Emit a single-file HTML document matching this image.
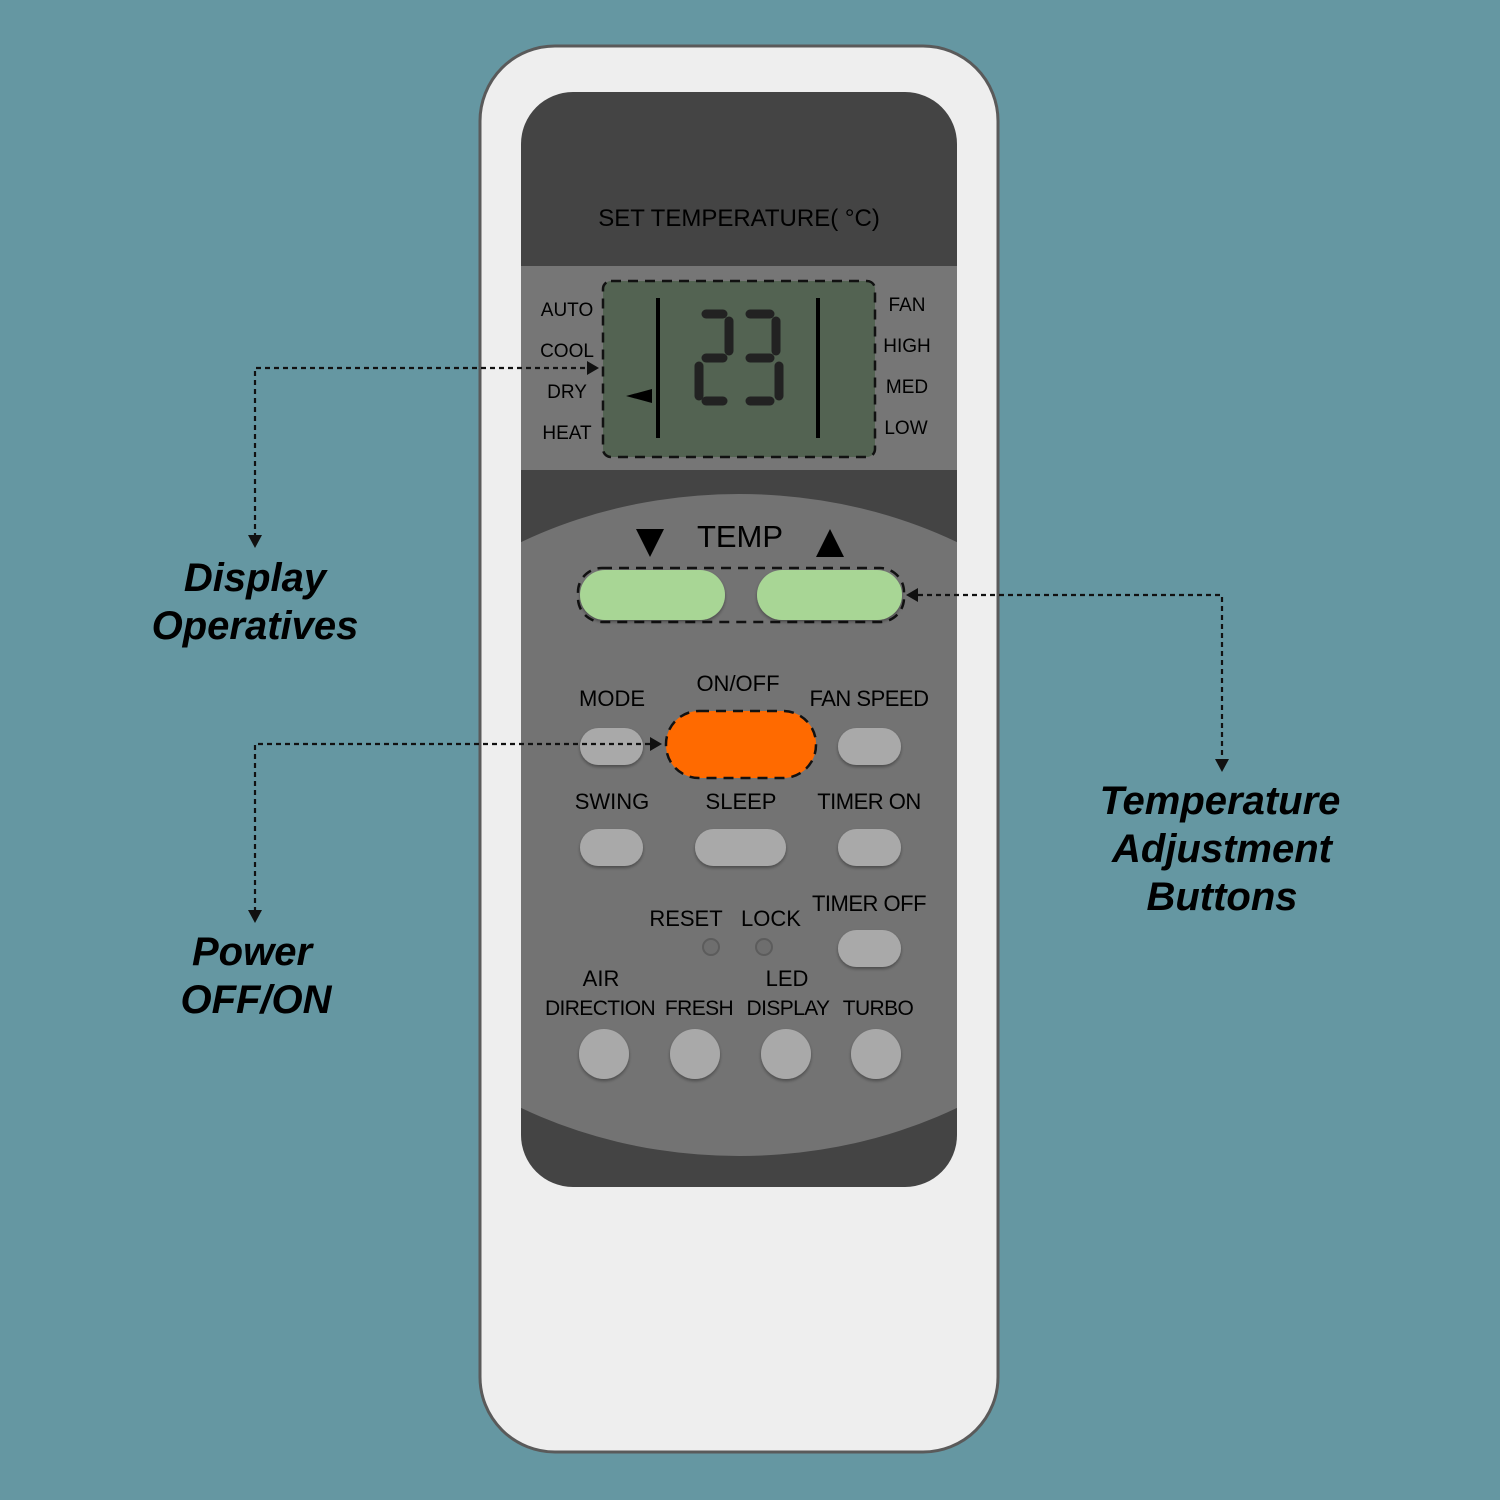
<!DOCTYPE html>
<html><head><meta charset="utf-8"><style>
html,body{margin:0;padding:0;background:#6597a2;}
svg{display:block;}
text{font-family:"Liberation Sans",sans-serif;}
</style></head><body>
<svg width="1500" height="1500" viewBox="0 0 1500 1500" xmlns="http://www.w3.org/2000/svg">
<defs>
<clipPath id="panel"><rect x="521" y="92" width="436" height="1095" rx="52"/></clipPath>
<filter id="sh" x="-20%" y="-20%" width="140%" height="160%"><feDropShadow dx="0" dy="2" stdDeviation="1.5" flood-color="#000" flood-opacity="0.35"/></filter>
</defs>
<rect width="1500" height="1500" fill="#6597a2"/>
<rect x="480" y="46" width="518" height="1406" rx="75" fill="#eeeeee" stroke="#5a5a5a" stroke-width="3"/>
<g clip-path="url(#panel)">
<rect x="521" y="92" width="436" height="1095" fill="#444444"/>
<rect x="521" y="266" width="436" height="204" fill="#767676"/>
<ellipse cx="739" cy="825" rx="420" ry="331" fill="#737373"/>
</g>
<text x="739" y="226" font-size="24" text-anchor="middle" fill="#000">SET TEMPERATURE( °C)</text>
<rect x="603" y="281" width="272" height="176" rx="8" fill="#536352" stroke="#111" stroke-width="2.5" stroke-dasharray="10,7"/>
<g fill="#000" font-size="19">
<text x="567" y="316" text-anchor="middle">AUTO</text>
<text x="567" y="357" text-anchor="middle">COOL</text>
<text x="567" y="398" text-anchor="middle">DRY</text>
<text x="567" y="439" text-anchor="middle">HEAT</text>
<text x="907" y="311" text-anchor="middle">FAN</text>
<text x="907" y="352" text-anchor="middle">HIGH</text>
<text x="907" y="393" text-anchor="middle">MED</text>
<text x="906" y="434" text-anchor="middle">LOW</text>
</g>
<line x1="658" y1="298" x2="658" y2="438" stroke="#000" stroke-width="4"/>
<line x1="818" y1="298" x2="818" y2="438" stroke="#000" stroke-width="4"/>
<polygon points="626,396 652,389 652,403" fill="#000"/>
<g stroke="#222" stroke-width="9" stroke-linecap="round">
<line x1="706" y1="314" x2="723" y2="314"/><line x1="729" y1="321" x2="729" y2="351"/><line x1="706" y1="358" x2="723" y2="358"/><line x1="699" y1="366" x2="699" y2="396"/><line x1="706" y1="401" x2="723" y2="401"/>
<line x1="750" y1="314" x2="770" y2="314"/><line x1="776" y1="321" x2="776" y2="351"/><line x1="750" y1="358" x2="770" y2="358"/><line x1="779" y1="366" x2="779" y2="396"/><line x1="750" y1="401" x2="770" y2="401"/>
</g>
<text x="740" y="547" font-size="31" text-anchor="middle" fill="#000">TEMP</text>
<polygon points="636,529 664,529 650,557" fill="#000"/>
<polygon points="816,557 844,557 830,529" fill="#000"/>
<rect x="578" y="568" width="326" height="54" rx="24" fill="none" stroke="#111" stroke-width="2.5" stroke-dasharray="10,7"/>
<rect x="580" y="570" width="145" height="50" rx="25" fill="#a8d695" filter="url(#sh)"/>
<rect x="757" y="570" width="145" height="50" rx="25" fill="#a8d695" filter="url(#sh)"/>
<g fill="#000" font-size="22" text-anchor="middle">
<text x="612" y="706">MODE</text>
<text x="738" y="691">ON/OFF</text>
<text x="869" y="706" letter-spacing="-0.5">FAN SPEED</text>
<text x="612" y="809">SWING</text>
<text x="741" y="809">SLEEP</text>
<text x="869" y="809" letter-spacing="-0.5">TIMER ON</text>
<text x="686" y="926">RESET</text>
<text x="771" y="926">LOCK</text>
<text x="869" y="911" letter-spacing="-0.5">TIMER OFF</text>
<text x="601" y="986">AIR</text>
<text x="787" y="986">LED</text>
</g>
<g fill="#000" font-size="21" text-anchor="middle" letter-spacing="-0.6">
<text x="600" y="1015">DIRECTION</text>
<text x="699" y="1015">FRESH</text>
<text x="788" y="1015">DISPLAY</text>
<text x="878" y="1015">TURBO</text>
</g>
<g fill="#a9a9a9" filter="url(#sh)">
<rect x="580" y="728" width="63" height="37" rx="18.5"/>
<rect x="838" y="728" width="63" height="37" rx="18.5"/>
<rect x="580" y="829" width="63" height="37" rx="18.5"/>
<rect x="695" y="829" width="91" height="37" rx="18.5"/>
<rect x="838" y="829" width="63" height="37" rx="18.5"/>
<rect x="838" y="930" width="63" height="37" rx="18.5"/>
<circle cx="604" cy="1054" r="25"/>
<circle cx="695" cy="1054" r="25"/>
<circle cx="786" cy="1054" r="25"/>
<circle cx="876" cy="1054" r="25"/>
</g>
<circle cx="711" cy="947" r="8" fill="#6e6e6e" stroke="#5c5c5c" stroke-width="2"/>
<circle cx="764" cy="947" r="8" fill="#6e6e6e" stroke="#5c5c5c" stroke-width="2"/>
<rect x="666" y="711" width="150" height="67" rx="33" fill="#ff6a00" stroke="#111" stroke-width="2.5" stroke-dasharray="10,7"/>
<g stroke="#111" stroke-width="2.2" stroke-dasharray="5,4" fill="none">
<polyline points="255,538 255,368 588,368"/>
<polyline points="255,912 255,744 650,744"/>
<polyline points="918,595 1222,595 1222,762"/>
</g>
<g fill="#111">
<polygon points="599,368 587,361 587,375"/>
<polygon points="248,535 262,535 255,548"/>
<polygon points="662,744 650,737 650,751"/>
<polygon points="248,910 262,910 255,923"/>
<polygon points="906,595 918,588 918,602"/>
<polygon points="1215,759 1229,759 1222,772"/>
</g>
<g fill="#000" font-size="40" font-weight="bold" font-style="italic" text-anchor="middle">
<text x="255" y="591">Display</text>
<text x="255" y="639">Operatives</text>
<text x="252" y="965">Power</text>
<text x="256" y="1013">OFF/ON</text>
<text x="1220" y="814">Temperature</text>
<text x="1222" y="862">Adjustment</text>
<text x="1222" y="910">Buttons</text>
</g>
</svg>
</body></html>
